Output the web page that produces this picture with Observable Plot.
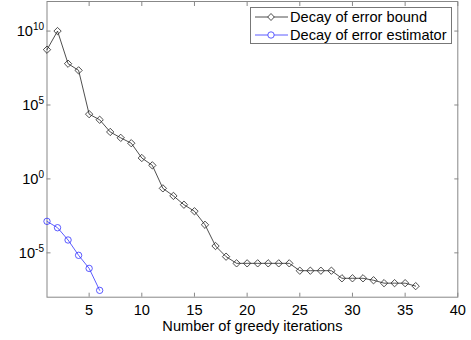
<!DOCTYPE html>
<html>
<head>
<meta charset="utf-8">
<script src="https://cdn.jsdelivr.net/npm/d3@7"></script>
<script src="https://cdn.jsdelivr.net/npm/@observablehq/plot@0.6"></script>
<style>
  body { margin: 0; background: #fff; }
  #wrap { position: relative; width: 471px; height: 340px; font-family: Arial, "Liberation Sans", sans-serif; }
  #legend { position: absolute; left: 250px; top: 7px; width: 202px; height: 37px; border: 1px solid #777; background: #fff; box-sizing: border-box; font-size: 14.6px; }
  .row { position: absolute; left: 0; height: 18px; display: flex; align-items: center; }
  .row svg { display: block; }
  .row span { margin-left: 1px; white-space: nowrap; }
</style>
</head>
<body>
<div id="wrap"></div>
<script>
const boundIter = [1,2,3,4,5,6,7,8,9,10,11,12,13,14,15,16,17,18,19,20,21,22,23,24,25,26,27,28,29,30,31,32,33,34,35,36];
const boundValue = [5.5e8,1.0e10,6.2e7,2.2e7,2.4e4,1.0e4,1.5e3,6.0e2,2.6e2,2.6e1,8.3,0.23,0.071,0.018,0.0065,7.9e-4,2.9e-5,5.5e-6,
  1.95e-6,1.95e-6,1.95e-6,1.95e-6,1.95e-6,1.95e-6,6.2e-7,6.2e-7,6.2e-7,6.2e-7,1.9e-7,1.9e-7,1.9e-7,1.4e-7,8.9e-8,8.9e-8,8.9e-8,5.6e-8];
const estIter = [1,2,3,4,5,6];
const estValue = [1.35e-3,5.0e-4,7.4e-5,6.8e-6,8.9e-7,2.9e-8];
const xTicks = [5,10,15,20,25,30,35,40];
const yTicks = [1e-5,1,1e5,1e10];
const yTickLabels = ["10^-5","10^0","10^5","10^10"];
const seriesNames = ["Decay of error bound","Decay of error estimator"];

const bound = boundIter.map((x,i)=>({x, y: boundValue[i]}));
const est = estIter.map((x,i)=>({x, y: estValue[i]}));
const axisColor = "#888";

const chart = Plot.plot({
  width: 471, height: 340,
  marginLeft: 46.5, marginRight: 13.7, marginTop: 1, marginBottom: 43.3,
  style: {fontFamily: "Arial, 'Liberation Sans', sans-serif", fontSize: "14.6px", background: "#fff", color: "#000"},
  x: {domain: [1, 40]},
  y: {type: "log", domain: [1e-8, 1e12]},
  marks: [
    Plot.frame({stroke: axisColor}),
    Plot.axisX(xTicks, {anchor: "bottom", tickSize: 0, tickPadding: 7, label: "Number of greedy iterations", labelAnchor: "center", labelArrow: "none", labelOffset: 34}),
    Plot.axisX(xTicks, {anchor: "bottom", tickSize: 4, dy: -4, fill: "none", stroke: axisColor, label: null}),
    Plot.axisX(xTicks, {anchor: "top", tickSize: 4, dy: 4, fill: "none", stroke: axisColor, label: null}),
    Plot.axisY(yTicks, {anchor: "left", tickSize: 0, tickPadding: 3, tickFormat: (d) => yTickLabels[yTicks.indexOf(d)], label: null}),
    Plot.axisY(yTicks, {anchor: "left", tickSize: 4, dx: 4, fill: "none", stroke: axisColor, label: null}),
    Plot.axisY(yTicks, {anchor: "right", tickSize: 4, dx: -4, fill: "none", stroke: axisColor, label: null}),
    Plot.line(bound, {x: "x", y: "y", stroke: "#222", strokeWidth: 0.8}),
    Plot.dot(bound, {x: "x", y: "y", symbol: "diamond2", r: 3.3, stroke: "#222", strokeWidth: 0.8, fill: "none"}),
    Plot.line(est, {x: "x", y: "y", stroke: "#33f", strokeWidth: 0.8}),
    Plot.dot(est, {x: "x", y: "y", symbol: "circle", r: 3.2, stroke: "#33f", strokeWidth: 0.8, fill: "none"})
  ]
});

// Superscript exponents on y tick labels
d3.select(chart).selectAll("g[aria-label='y-axis tick label'] text").each(function() {
  const t = this.textContent;
  if (!t.includes("^")) return;
  const [base, exp] = t.split("^");
  this.textContent = "";
  const ns = "http://www.w3.org/2000/svg";
  const b = document.createElementNS(ns, "tspan"); b.textContent = base; this.appendChild(b);
  const e = document.createElementNS(ns, "tspan"); e.textContent = exp;
  e.setAttribute("dy", "-0.55em"); e.setAttribute("font-size", "10px"); this.appendChild(e);
});

const wrap = document.getElementById("wrap");
wrap.appendChild(chart);

const legend = document.createElement("div");
legend.id = "legend";
const legendStyles = [
  {stroke: "#222", marker: "diamond"},
  {stroke: "#33f", marker: "circle"}
];
seriesNames.forEach((name, i) => {
  const row = document.createElement("div");
  row.className = "row";
  row.style.top = (i * 17.5) + "px";
  const s = legendStyles[i];
  const mk = s.marker === "diamond"
    ? `<path d="M20,5.5 L23.3,9 L20,12.5 L16.7,9 Z" fill="#fff" stroke="${s.stroke}" stroke-width="0.8"/>`
    : `<circle cx="20" cy="9" r="3.2" fill="#fff" stroke="${s.stroke}" stroke-width="0.8"/>`;
  row.innerHTML = `<svg width="38" height="18"><line x1="4" x2="37" y1="9" y2="9" stroke="${s.stroke}" stroke-width="0.8"/>${mk}</svg><span>${name}</span>`;
  legend.appendChild(row);
});
wrap.appendChild(legend);
</script>
</body>
</html>
